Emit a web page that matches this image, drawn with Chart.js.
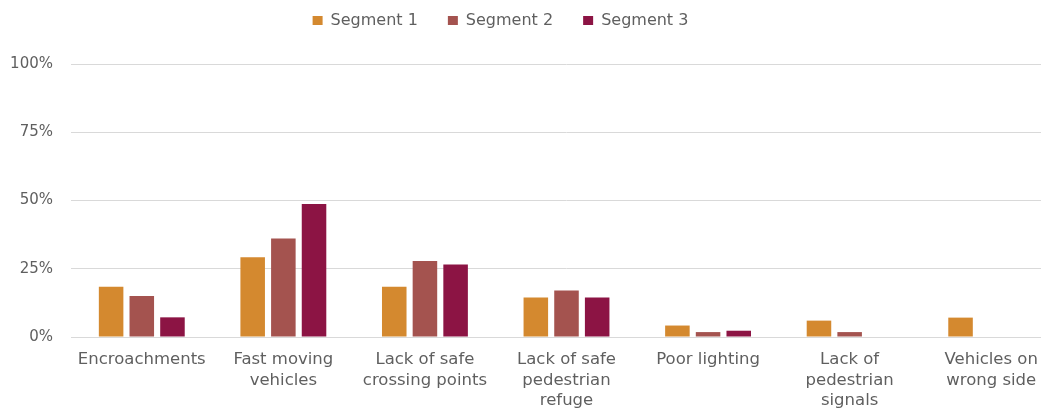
<!DOCTYPE html>
<html>
<head>
<meta charset="utf-8">
<script src="https://cdn.jsdelivr.net/npm/chart.js@4/dist/chart.umd.min.js"></script>
<style>
html,body{margin:0;padding:0;background:#fff;overflow:hidden;}
#wrap{position:relative;width:1062px;height:416px;}
</style>
</head>
<body>
<div id="wrap"><canvas id="c"></canvas></div>
<script>
const categories = [
  ["Encroachments"],
  ["Fast moving", "vehicles"],
  ["Lack of safe", "crossing points"],
  ["Lack of safe", "pedestrian", "refuge"],
  ["Poor lighting"],
  ["Lack of", "pedestrian", "signals"],
  ["Vehicles on", "wrong side"]
];
const seriesNames = ["Segment 1", "Segment 2", "Segment 3"];
const segment1 = [18.4, 29.2, 18.4, 14.5, 4.2, 6.0, 7.1];
const segment2 = [15.0, 36.1, 27.8, 17.0, 1.8, 1.8, 0];
const segment3 = [7.2, 48.7, 26.6, 14.5, 2.3, 0, 0];
const yTicks = [0, 25, 50, 75, 100];

const colors = ["#D4892F", "#A4534F", "#8C1444"];
const FONT = "'DejaVu Sans', sans-serif";
const TEXT = '#5f5f5f';

const legendPlace = {
  id: 'legendPlace',
  beforeLayout(chart) {
    const lg = chart.legend;
    if (lg && !lg._patched) {
      const fit = lg.fit;
      lg.fit = function () { fit.call(this); this.height = 64; };
      lg._patched = true;
    }
  },
  afterLayout(chart) {
    const lg = chart.legend;
    if (lg) { lg.left = 0; lg.right = 1001; lg.width = 1001; lg.top = -17.5; }
  }
};

new Chart(document.getElementById('c'), {
  type: 'bar',
  data: {
    labels: categories,
    datasets: [segment1, segment2, segment3].map((d, i) => ({
      label: seriesNames[i],
      data: d,
      backgroundColor: colors[i],
      borderWidth: 0,
      barPercentage: 0.8,
      categoryPercentage: 0.65
    }))
  },
  options: {
    responsive: true,
    maintainAspectRatio: false,
    animation: false,
    layout: { padding: { left: 10, right: 0, top: 0, bottom: 0 } },
    plugins: {
      legend: {
        position: 'top',
        labels: {
          boxWidth: 10, boxHeight: 9, padding: 30,
          color: TEXT,
          font: { family: FONT, size: 16 }
        }
      },
      tooltip: { enabled: false }
    },
    scales: {
      x: {
        afterFit(s) { s.paddingLeft = 0; s.paddingRight = 0; s.height = 79; },
        grid: { display: false, drawTicks: false },
        border: { display: true, color: '#d9d9d9', width: 1 },
        ticks: {
          color: TEXT, padding: 12.5, maxRotation: 0, autoSkip: false,
          font: { family: FONT, size: 16.5, lineHeight: 1.25 }
        }
      },
      y: {
        min: 0, max: 100,
        afterFit(s) { s.width = 61; },
        afterBuildTicks(scale) { scale.ticks = yTicks.map(v => ({ value: v })); },
        grid: { color: '#d9d9d9', drawTicks: false },
        border: { display: false },
        ticks: {
          color: TEXT, padding: 18,
          font: { family: FONT, size: 15 },
          callback: v => v + '%'
        }
      }
    }
  },
  plugins: [legendPlace]
});
</script>
</body>
</html>
